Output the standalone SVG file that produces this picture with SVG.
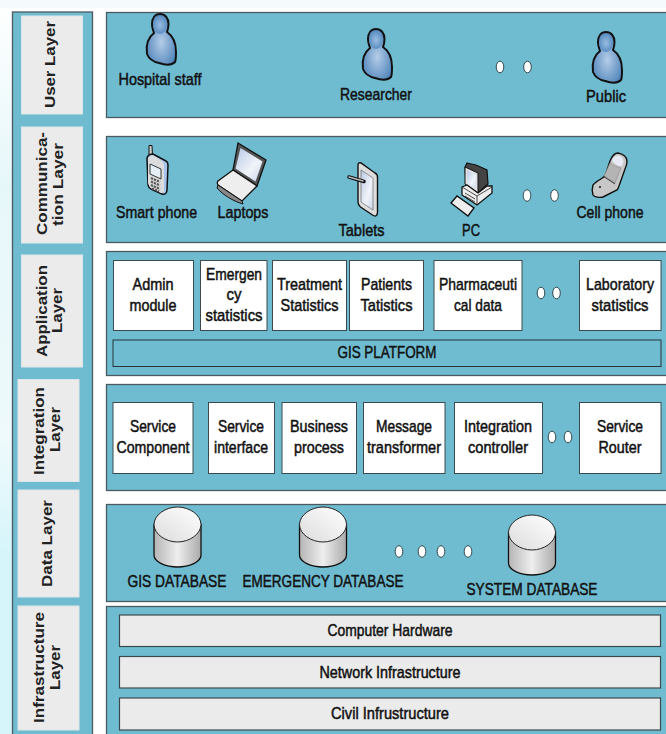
<svg xmlns="http://www.w3.org/2000/svg" width="666" height="734" viewBox="0 0 666 734">
<style>
.p{fill:#6fbcd1;stroke:#4a5a60;stroke-width:1.3}
.lb{fill:#ebebeb;stroke:#dfe6e8;stroke-width:1}
.b{fill:#fff;stroke:#3c4a4e;stroke-width:1}
.g{fill:#ebebeb;stroke:#3c4a4e;stroke-width:1.2}
.d{fill:#fff;stroke:#33474d;stroke-width:1}
text{font-family:"Liberation Sans",Arial,sans-serif;fill:#111;text-anchor:middle}
.t{font-size:17px;font-weight:400;stroke:#111;stroke-width:.5}
.l{font-size:15px;font-weight:700;fill:#222}
</style>
<defs>
<radialGradient id="pg" cx=".5" cy=".55" r=".6"><stop offset="0" stop-color="#b5cde8"/><stop offset="1" stop-color="#4a80b8"/></radialGradient>
<radialGradient id="hg" cx=".5" cy=".5" r=".6"><stop offset="0" stop-color="#9abde0"/><stop offset="1" stop-color="#4f86bd"/></radialGradient>
<linearGradient id="dg" x1="0" x2="1" y1="0" y2="0"><stop offset="0" stop-color="#b5b5b5"/><stop offset=".5" stop-color="#eee"/><stop offset="1" stop-color="#aaa"/></linearGradient>
<linearGradient id="dt" x1="0" x2="1" y1="1" y2="0"><stop offset="0" stop-color="#dcdcdc"/><stop offset="1" stop-color="#fff"/></linearGradient>
<linearGradient id="sc" x1="0" x2="1" y1="0" y2="1"><stop offset="0" stop-color="#b8c8e4"/><stop offset=".6" stop-color="#f0f4fa"/><stop offset="1" stop-color="#c9d6ea"/></linearGradient>
<linearGradient id="bgl" x1="0" x2="0" y1="0" y2="1"><stop offset="0" stop-color="#fff"/><stop offset=".25" stop-color="#e6f7fa"/><stop offset=".6" stop-color="#eefafc"/><stop offset=".75" stop-color="#d6f5fb"/><stop offset="1" stop-color="#d6f5fb"/></linearGradient>
<g id="person">
<path d="M-8 -31C-8 -37 -5 -41 0 -41C5 -41 8.500 -37 8.500 -31C8.500 -27 7.500 -24.500 7 -23C13 -19 16 -12 16 -3C16 2 16 5 15 7C11 11 5 10 -1 8C-6 7 -11 4 -13 -1C-14 -8 -14 -16 -6 -22C-7 -25 -8 -28 -8 -31Z" fill="url(#pg)" stroke="#111" stroke-width="2"/>
<ellipse cx="0" cy="-30" rx="7" ry="9" fill="url(#hg)"/>
</g>
<g id="db">
<path d="M-23.500 -11.500V19C-23.500 26 -12 31 0 31C12 31 23.500 26 23.500 19V-11.500Z" fill="url(#dg)" stroke="#111" stroke-width="1.300"/>
<path d="M-23.500 -11.500C-23.500 -21 -12 -29 0 -29C12 -29 23.500 -21 23.500 -11.500C23.500 -2 12 6 0 6C-12 6 -23.500 -2 -23.500 -11.500Z" fill="url(#dt)" stroke="#222" stroke-width="1"/>
</g>
</defs>
<rect width="666" height="734" fill="#fff"/>
<rect x="0" y="0" width="12" height="734" fill="url(#bgl)"/>
<rect x="0" y="0" width="666" height="8" fill="#f5fbfc"/>

<g id="layer-column">
<rect class="p" x="12.500" y="12" width="80" height="726"/>
</g>
<g id="user-layer-label"><rect class="lb" x="21.500" y="16" width="61" height="98"/><text class="l" transform="translate(55 64.500) rotate(-90)" textLength="87" lengthAdjust="spacingAndGlyphs">User Layer</text></g>
<g id="communication-layer-label"><rect class="lb" x="21.500" y="127" width="61" height="116"/><text class="l" transform="translate(47 183.500) rotate(-90)" textLength="103" lengthAdjust="spacingAndGlyphs">Communica-</text><text class="l" transform="translate(63 184.500) rotate(-90)" textLength="83" lengthAdjust="spacingAndGlyphs">tion Layer</text></g>
<g id="application-layer-label"><rect class="lb" x="21.500" y="255" width="61" height="112"/><text class="l" transform="translate(47 311) rotate(-90)" textLength="92" lengthAdjust="spacingAndGlyphs">Application</text><text class="l" transform="translate(62 310.500) rotate(-90)" textLength="45" lengthAdjust="spacingAndGlyphs">Layer</text></g>
<g id="integration-layer-label"><rect class="lb" x="18" y="379.500" width="61" height="102"/><text class="l" transform="translate(44 431) rotate(-90)" textLength="88" lengthAdjust="spacingAndGlyphs">Integration</text><text class="l" transform="translate(60 429.500) rotate(-90)" textLength="45" lengthAdjust="spacingAndGlyphs">Layer</text></g>
<g id="data-layer-label"><rect class="lb" x="18" y="490" width="61" height="107"/><text class="l" transform="translate(52 543.500) rotate(-90)" textLength="87" lengthAdjust="spacingAndGlyphs">Data Layer</text></g>
<g id="infrastructure-layer-label"><rect class="lb" x="18" y="606" width="61" height="124"/><text class="l" transform="translate(44 667.500) rotate(-90)" textLength="111" lengthAdjust="spacingAndGlyphs">Infrastructure</text><text class="l" transform="translate(60 667.500) rotate(-90)" textLength="45" lengthAdjust="spacingAndGlyphs">Layer</text></g>

<g id="user-layer">
<rect class="p" x="106.500" y="12.500" width="565" height="105"/>
<use href="#person" x="160" y="55"/>
<text class="t" x="160" y="85" textLength="83" lengthAdjust="spacingAndGlyphs">Hospital staff</text>
<use href="#person" x="376" y="70"/>
<text class="t" x="376" y="100" textLength="72" lengthAdjust="spacingAndGlyphs">Researcher</text>
<ellipse class="d" cx="500" cy="67" rx="3.800" ry="5.800"/><ellipse class="d" cx="527.500" cy="67" rx="3.800" ry="5.800"/>
<use href="#person" x="606" y="73"/>
<text class="t" x="606" y="102" textLength="40" lengthAdjust="spacingAndGlyphs">Public</text>
</g>

<g id="communication-layer">
<rect class="p" x="106.500" y="136.500" width="565" height="106"/>
<g id="smart-phone">
<path d="M149 145.500l3 0 0.500 10-3.500 0z" fill="#ccc" stroke="#111" stroke-width="1"/>
<path d="M147 158c1-3 4-4 6-4l13 7c2 1 2 2 2 4l-1 25c0 3-2 5-5 4l-9-4c-3-1-5-3-5-6z" fill="#a8c4ec" stroke="#111" stroke-width="1.500"/>
<path d="M148 158c2-2 4-3 6-2l8 5c1 1 2 2 2 4l0 25c0 2-1 3-3 3l-8-4c-3-1-4-3-5-6z" fill="#dcdcdc"/>
<path d="M150 164l11 5v10l-11-5z" fill="#e6eef5" stroke="#222" stroke-width=".9"/>
<path d="M151 178l9 4M151 181.500l9 4M151 185l9 4M152 188.500l7 3" stroke="#555" stroke-width="2.200" stroke-dasharray="2.200 1" fill="none"/>
</g>
<text class="t" x="156.500" y="218" textLength="81" lengthAdjust="spacingAndGlyphs">Smart phone</text>
<g id="laptop">
<path d="M238 143l28 17-9 26-24-16z" fill="#555" stroke="#111" stroke-width="1.300"/>
<path d="M240.500 148l22 13.500-7 20-20-13z" fill="url(#sc)"/>
<path d="M233 170l24 16-15 15-24-16c-1-2-1-3 0-4z" fill="#eee" stroke="#111" stroke-width="1.300"/>
<path d="M218 185l24 16 1 3c-10-3-20-9-26-16z" fill="#888" stroke="#111" stroke-width="1"/>
</g>
<text class="t" x="243" y="218" textLength="51" lengthAdjust="spacingAndGlyphs">Laptops</text>
<g id="tablet">
<path d="M358 165c0-2 1-2.500 3-2l14 10c2 1 2.500 2 2.500 4v35c0 4-2 5-5 3l-12-8c-2-1.500-2.500-3-2.500-5z" fill="#ddd" stroke="#111" stroke-width="1.400"/>
<path d="M361 170l12 8v32l-12-8z" fill="url(#sc)" stroke="#555" stroke-width=".6"/>
<path d="M349 177l15 4.500" stroke="#111" stroke-width="3.500" stroke-linecap="round"/>
<path d="M349 177l14 4" stroke="#bbb" stroke-width="1.400" stroke-linecap="round"/>
</g>
<text class="t" x="361.500" y="236" textLength="46" lengthAdjust="spacingAndGlyphs">Tablets</text>
<g id="pc">
<path d="M467 163l9 2 11 5 1 14-10 9-12-9-1-17z" fill="#444" stroke="#111" stroke-width="1.200"/>
<path d="M465 167l13 6v20l-13-9z" fill="#e0e0e0" stroke="#111" stroke-width="1"/>
<path d="M467 170.500l9 4.500v14l-9-6z" fill="url(#sc)"/>
<path d="M462 187l5-2 11 8 9-7 5 0v7l-15 12-15-10z" fill="#eee" stroke="#111" stroke-width="1.300"/>
<path d="M462 187l15 9v9M477 196l15-9M465 193l10 6M465 196l10 6" fill="none" stroke="#222" stroke-width=".8"/>
<path d="M451 203l6-7 17 12-6 8z" fill="#eee" stroke="#111" stroke-width="1.400"/>
</g>
<text class="t" x="471" y="236" textLength="18" lengthAdjust="spacingAndGlyphs">PC</text>
<ellipse class="d" cx="527" cy="195.500" rx="3.800" ry="5.800"/><ellipse class="d" cx="554.500" cy="195.500" rx="3.800" ry="5.800"/>
<g id="cell-phone">
<path d="M610 161c2-5 5-8 8-8 5 1 9 4 9 8 0 3-1 6-2 8l-6 17c-1 2-1 3-2 4l-14 7c-3 1-9 0-10-2-1-3-1-7 0-10 3-4 9-6 12-9z" fill="#c8c8c8" stroke="#111" stroke-width="1.400"/>
<path d="M612 160c2-4 5-5 8-4 3 2 4 4 3 7l-1 3c-4 0-8-2-10-6z" fill="#e7eaf5"/>
<path d="M610 163c4 3 7 4 11 5l-6 15-11-7z" fill="#b4b4b4" stroke="#888" stroke-width=".6"/>
<path d="M603 176l12 8" stroke="#333" stroke-width="1" fill="none"/>
<circle cx="600" cy="187" r="1.100" fill="#222"/>
</g>
<text class="t" x="610" y="218" textLength="67" lengthAdjust="spacingAndGlyphs">Cell phone</text>
</g>

<g id="application-layer">
<rect class="p" x="106.500" y="251.500" width="565" height="124"/>
<g id="admin-module"><rect class="b" x="113.500" y="260.500" width="80" height="70"/><text class="t" x="153" y="290" textLength="41" lengthAdjust="spacingAndGlyphs">Admin</text><text class="t" x="153" y="311" textLength="47" lengthAdjust="spacingAndGlyphs">module</text></g>
<g id="emergency-statistics"><rect class="b" x="200.500" y="260.500" width="66.500" height="70"/><text class="t" x="234" y="280" textLength="56" lengthAdjust="spacingAndGlyphs">Emergen</text><text class="t" x="234" y="300" textLength="15" lengthAdjust="spacingAndGlyphs">cy</text><text class="t" x="234" y="321" textLength="57" lengthAdjust="spacingAndGlyphs">statistics</text></g>
<g id="treatment-statistics"><rect class="b" x="272.500" y="260.500" width="74" height="70"/><text class="t" x="309.500" y="290" textLength="65" lengthAdjust="spacingAndGlyphs">Treatment</text><text class="t" x="309.500" y="311" textLength="58" lengthAdjust="spacingAndGlyphs">Statistics</text></g>
<g id="patients-tatistics"><rect class="b" x="349.500" y="260.500" width="74" height="70"/><text class="t" x="386.500" y="290" textLength="51" lengthAdjust="spacingAndGlyphs">Patients</text><text class="t" x="386.500" y="311" textLength="52" lengthAdjust="spacingAndGlyphs">Tatistics</text></g>
<g id="pharmaceutical-data"><rect class="b" x="434" y="260.500" width="88" height="70"/><text class="t" x="478" y="290" textLength="78" lengthAdjust="spacingAndGlyphs">Pharmaceuti</text><text class="t" x="478" y="311" textLength="48" lengthAdjust="spacingAndGlyphs">cal data</text></g>
<ellipse class="d" cx="541" cy="293" rx="3.800" ry="5.800"/><ellipse class="d" cx="556.500" cy="293" rx="3.800" ry="5.800"/>
<g id="laboratory-statistics"><rect class="b" x="579.500" y="260.500" width="81.500" height="70"/><text class="t" x="620" y="290" textLength="68" lengthAdjust="spacingAndGlyphs">Laboratory</text><text class="t" x="620" y="311" textLength="57" lengthAdjust="spacingAndGlyphs">statistics</text></g>
<g id="gis-platform"><rect x="113" y="340" width="548" height="26.500" fill="#6fbcd1" stroke="#26353a" stroke-width="1"/><text class="t" x="387" y="358" textLength="99" lengthAdjust="spacingAndGlyphs">GIS PLATFORM</text></g>
</g>

<g id="integration-layer">
<rect class="p" x="106.500" y="384.500" width="565" height="106"/>
<g id="service-component"><rect class="b" x="113" y="402.500" width="80" height="71"/><text class="t" x="153" y="432" textLength="46" lengthAdjust="spacingAndGlyphs">Service</text><text class="t" x="153" y="453" textLength="73" lengthAdjust="spacingAndGlyphs">Component</text></g>
<g id="service-interface"><rect class="b" x="208.500" y="402.500" width="66" height="71"/><text class="t" x="241" y="432" textLength="46" lengthAdjust="spacingAndGlyphs">Service</text><text class="t" x="241" y="453" textLength="54" lengthAdjust="spacingAndGlyphs">interface</text></g>
<g id="business-process"><rect class="b" x="282" y="402.500" width="74.500" height="71"/><text class="t" x="319" y="432" textLength="58" lengthAdjust="spacingAndGlyphs">Business</text><text class="t" x="319" y="453" textLength="50" lengthAdjust="spacingAndGlyphs">process</text></g>
<g id="message-transformer"><rect class="b" x="363.500" y="402.500" width="81.500" height="71"/><text class="t" x="404" y="432" textLength="56" lengthAdjust="spacingAndGlyphs">Message</text><text class="t" x="404" y="453" textLength="74" lengthAdjust="spacingAndGlyphs">transformer</text></g>
<g id="integration-controller"><rect class="b" x="454.500" y="402.500" width="88" height="71"/><text class="t" x="498" y="432" textLength="68" lengthAdjust="spacingAndGlyphs">Integration</text><text class="t" x="498" y="453" textLength="60" lengthAdjust="spacingAndGlyphs">controller</text></g>
<ellipse class="d" cx="552" cy="437" rx="3.800" ry="5.800"/><ellipse class="d" cx="568" cy="437" rx="3.800" ry="5.800"/>
<g id="service-router"><rect class="b" x="579.500" y="402.500" width="81.500" height="71"/><text class="t" x="620" y="432" textLength="46" lengthAdjust="spacingAndGlyphs">Service</text><text class="t" x="620" y="453" textLength="43" lengthAdjust="spacingAndGlyphs">Router</text></g>
</g>

<g id="data-layer">
<rect class="p" x="106.500" y="504.500" width="565" height="97"/>
<use href="#db" x="177.500" y="536"/>
<text class="t" x="177" y="587" textLength="99" lengthAdjust="spacingAndGlyphs">GIS DATABASE</text>
<use href="#db" x="323" y="536"/>
<text class="t" x="323" y="587" textLength="161" lengthAdjust="spacingAndGlyphs">EMERGENCY DATABASE</text>
<ellipse class="d" cx="399" cy="551.500" rx="3.800" ry="5.800"/><ellipse class="d" cx="422" cy="551.500" rx="3.800" ry="5.800"/><ellipse class="d" cx="441" cy="551.500" rx="3.800" ry="5.800"/><ellipse class="d" cx="468" cy="551.500" rx="3.800" ry="5.800"/>
<use href="#db" x="532" y="544"/>
<text class="t" x="532" y="595" textLength="131" lengthAdjust="spacingAndGlyphs">SYSTEM DATABASE</text>
</g>

<g id="infrastructure-layer">
<rect class="p" x="106.500" y="606.500" width="565" height="132"/>
<g id="computer-hardware"><rect class="g" x="119.500" y="615" width="541" height="31.500"/><text class="t" x="390" y="636" textLength="125" lengthAdjust="spacingAndGlyphs">Computer Hardware</text></g>
<g id="network-infrastructure"><rect class="g" x="119.500" y="656.500" width="541" height="31.500"/><text class="t" x="390" y="678" textLength="141" lengthAdjust="spacingAndGlyphs">Network Infrastructure</text></g>
<g id="civil-infrustructure"><rect class="g" x="119.500" y="698" width="541" height="32"/><text class="t" x="390" y="719" textLength="118" lengthAdjust="spacingAndGlyphs">Civil Infrustructure</text></g>
</g>
</svg>
